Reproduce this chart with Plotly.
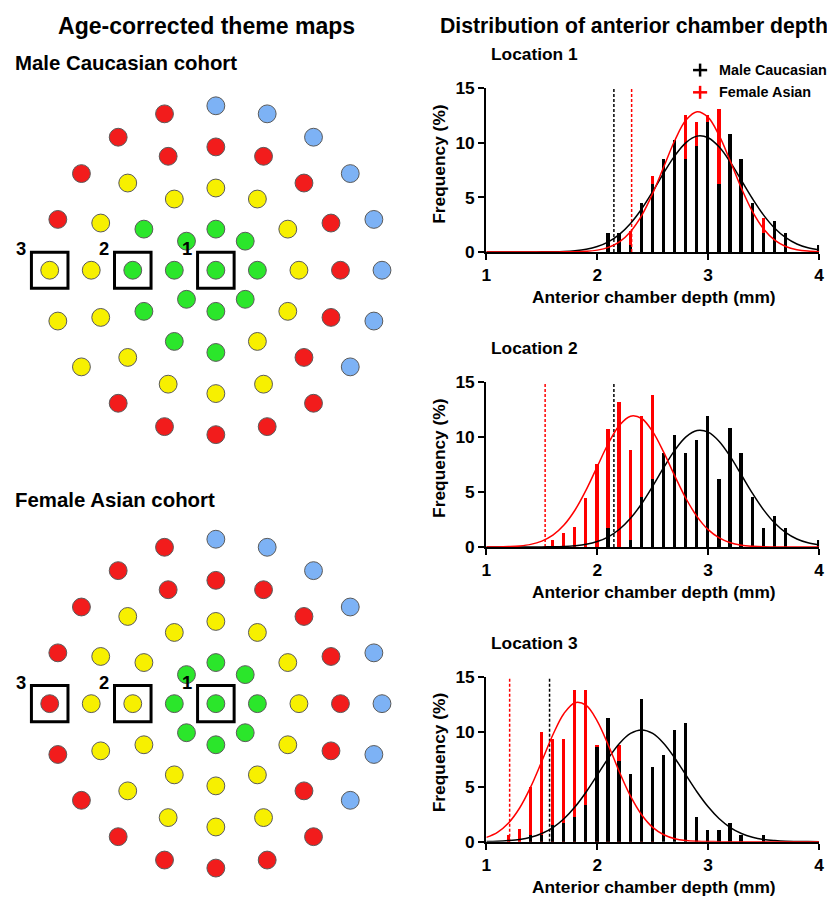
import math
import plotly.graph_objects as go

# ---------------- data ----------------
# histogram bin centres (anterior chamber depth, mm)
bins = [1.2, 1.3, 1.4, 1.5, 1.6, 1.7, 1.8, 1.9, 2.0, 2.1, 2.2, 2.3, 2.4, 2.5, 2.6,
        2.7, 2.8, 2.9, 3.0, 3.1, 3.2, 3.3, 3.4, 3.5, 3.6, 3.7, 3.8, 3.9, 4.0]

male_loc1 = [0, 0, 0, 0, 0, 0, 0, 0, 0, 1.7, 1.7, 0.6, 4.5, 6.2, 8.5,
             10.2, 8.5, 9.7, 11.9, 6.2, 10.8, 8.5, 4.5, 1.7, 2.8, 1.7, 0, 0, 0.6]
female_loc1 = [0, 0, 0, 0, 0, 0, 0, 0, 0, 0, 0.6, 1.9, 3.8, 6.9, 7.5,
               10.0, 12.5, 11.9, 12.5, 13.1, 8.1, 5.6, 3.8, 3.1, 0.6, 0.6, 0, 0, 0]
male_loc2 = [0, 0, 0, 0, 0, 0, 0, 0, 0, 1.7, 0, 0.6, 4.5, 6.2, 8.5,
             10.2, 8.5, 9.7, 11.9, 6.2, 10.8, 8.5, 4.5, 1.7, 2.8, 1.7, 0, 0, 0.6]
female_loc2 = [0, 0, 0, 0, 0.6, 1.2, 1.8, 4.4, 7.5, 10.7, 13.2, 8.8, 11.9, 13.8, 6.9,
               5.0, 3.1, 1.9, 0.6, 0, 0, 0, 0, 0, 0, 0, 0, 0, 0]
male_loc3 = [0, 0, 0.6, 0.6, 1.5, 1.7, 2.3, 3.4, 8.6, 11.3, 7.4, 6.2, 13.0, 6.8, 7.9,
             10.2, 10.8, 2.3, 1.1, 1.1, 1.7, 0.6, 0, 0.6, 0, 0, 0, 0, 0]
female_loc3 = [0.6, 1.2, 5.0, 10.0, 9.4, 9.4, 13.8, 13.8, 8.8, 6.9, 8.8, 3.1, 1.9, 0.6, 0,
               0, 0, 0, 0, 0, 0, 0, 0, 0, 0, 0, 0, 0, 0]

# fitted normal curves
fit_x = [1.0, 1.1, 1.2, 1.3, 1.4, 1.5, 1.6, 1.7, 1.8, 1.9, 2.0, 2.1, 2.2, 2.3, 2.4, 2.5,
         2.6, 2.7, 2.8, 2.9, 3.0, 3.1, 3.2, 3.3, 3.4, 3.5, 3.6, 3.7, 3.8, 3.9, 4.0]
fit_male_loc1 = [0, 0, 0, 0, 0, 0.01, 0.02, 0.05, 0.12, 0.25, 0.50, 0.93, 1.62, 2.62, 3.94,
                 5.54, 7.25, 8.83, 10.03, 10.62, 10.47, 9.62, 8.23, 6.56, 4.88, 3.38, 2.18,
                 1.31, 0.73, 0.38, 0.19]
fit_female_loc1 = [0, 0, 0, 0, 0, 0, 0, 0.01, 0.02, 0.06, 0.17, 0.42, 0.93, 1.86, 3.33,
                   5.37, 7.81, 10.24, 12.09, 12.86, 12.34, 10.66, 8.31, 5.84, 3.69, 2.10,
                   1.08, 0.50, 0.21, 0.08, 0.03]
fit_male_loc2 = fit_male_loc1
fit_female_loc2 = [0, 0.01, 0.04, 0.10, 0.24, 0.54, 1.08, 2.00, 3.37, 5.20, 7.33, 9.43,
                   11.09, 11.92, 11.71, 10.51, 8.62, 6.46, 4.42, 2.77, 1.58, 0.83, 0.39,
                   0.17, 0.07, 0.02, 0.01, 0, 0, 0, 0]
fit_male_loc3 = [0.02, 0.04, 0.10, 0.20, 0.40, 0.74, 1.28, 2.08, 3.17, 4.52, 6.05, 7.59,
                 8.93, 9.84, 10.16, 9.84, 8.93, 7.59, 6.05, 4.52, 3.17, 2.08, 1.28, 0.74,
                 0.40, 0.20, 0.10, 0.04, 0.02, 0.01, 0]
fit_female_loc3 = [0.39, 0.85, 1.70, 3.06, 4.98, 7.31, 9.72, 11.66, 12.64, 12.39, 10.97,
                   8.77, 6.34, 4.14, 2.45, 1.30, 0.63, 0.27, 0.11, 0.04, 0.01, 0, 0, 0, 0,
                   0, 0, 0, 0, 0, 0]

# cut-off values (dashed lines), mm
male_cutoff = [2.15, 2.15, 1.57]
female_cutoff = [2.31, 1.53, 1.21]

location_titles = ["Location 1", "Location 2", "Location 3"]
series_names = ["Male Caucasian", "Female Asian"]
x_ticks = [1, 2, 3, 4]
y_ticks = [0, 5, 10, 15]

# theme maps: rings of test points (count per ring) and category per point
ring_counts = [1, 8, 12, 16, 20]
male_map = ["G", "GGGGGGGG", "YYYYYGGGGGYY", "RRRRRRYYYYYYYYRR", "BBBBBBRRRRYYYRRRRRBB"]
female_map = ["G", "GGGGGGGG", "YYYYYYYYYYYY", "RRRRRRYYYYYYYYRR", "BBBBBBRRRRRRRRRRRRBB"]
# highlighted locations: ring index and angle (deg)
loc_ring = [0, 2, 4]
loc_angle = [0, 180, 180]
loc_labels = ["1", "2", "3"]

# ---------------- style / placement ----------------
# observed mapping of figure pixels to photo pixels: photo = SC * fig + SOFF
SC, SOFF = 0.98, 15.5
FW, FH = 836, 901
FONT = "Liberation Sans, Arial, Helvetica, sans-serif"
RED = "#FF0000"
BLACK = "#000000"
SERIES_COLORS = [BLACK, RED]
CAT_COLORS = {"G": "#2BE62B", "Y": "#F7F000", "R": "#F21C1C", "B": "#7DB2F5"}


def sz(v):
    return v / SC


def px_x(px):
    return ((px - SOFF) / SC) / FW


def px_y(py):
    return 1 - ((py - SOFF) / SC) / FH


fig = go.Figure()

male_bars = [male_loc1, male_loc2, male_loc3]
female_bars = [female_loc1, female_loc2, female_loc3]
male_fits = [fit_male_loc1, fit_male_loc2, fit_male_loc3]
female_fits = [fit_female_loc1, fit_female_loc2, fit_female_loc3]
hist_y_px = [(86, 250), (380.7, 545.7), (675.7, 841)]

annotations = []
shapes = []
layout_axes = {}

for i in range(3):
    suf = "" if i == 0 else str(i + 1)
    xa, ya = "x" + suf, "y" + suf
    fig.add_trace(go.Bar(x=bins, y=female_bars[i], width=0.03, marker=dict(color=RED, line_width=0),
                         xaxis=xa, yaxis=ya, showlegend=False, hoverinfo="skip"))
    fig.add_trace(go.Bar(x=bins, y=male_bars[i], width=0.03, marker=dict(color=BLACK, line_width=0),
                         xaxis=xa, yaxis=ya, showlegend=False, hoverinfo="skip"))
    fig.add_trace(go.Scatter(x=[male_cutoff[i], male_cutoff[i]], y=[0, 15], mode="lines",
                             line=dict(color=BLACK, width=1.5, dash="3px,2px"),
                             xaxis=xa, yaxis=ya, showlegend=False, hoverinfo="skip"))
    fig.add_trace(go.Scatter(x=[female_cutoff[i], female_cutoff[i]], y=[0, 15], mode="lines",
                             line=dict(color=RED, width=1.5, dash="3px,2px"),
                             xaxis=xa, yaxis=ya, showlegend=False, hoverinfo="skip"))
    fig.add_trace(go.Scatter(x=fit_x, y=male_fits[i], mode="lines",
                             line=dict(color=BLACK, width=1.5, shape="spline"),
                             xaxis=xa, yaxis=ya, showlegend=False, hoverinfo="skip"))
    fig.add_trace(go.Scatter(x=fit_x, y=female_fits[i], mode="lines",
                             line=dict(color=RED, width=1.5, shape="spline"),
                             xaxis=xa, yaxis=ya, showlegend=False, hoverinfo="skip"))

    top, bot = hist_y_px[i]
    axis_common = dict(showline=True, linecolor=BLACK, linewidth=2, ticks="outside",
                       ticklen=sz(6), tickwidth=2, tickcolor=BLACK, showgrid=False,
                       zeroline=False, fixedrange=True,
                       tickfont=dict(family=FONT, size=sz(17), color=BLACK, weight="bold"))
    layout_axes["xaxis" + suf] = dict(axis_common, domain=[px_x(485), px_x(815)], range=[1, 4],
                                      tickvals=x_ticks, anchor=ya)
    layout_axes["yaxis" + suf] = dict(axis_common, domain=[px_y(bot), px_y(top)], range=[0, 15],
                                      tickvals=y_ticks, anchor=xa)

    annotations.append(dict(text=location_titles[i], x=px_x(488), y=px_y(top - 34),
                            xanchor="left", yanchor="middle", showarrow=False,
                            font=dict(size=sz(17), weight="bold")))
    annotations.append(dict(text="Frequency (%)", x=px_x(438), y=px_y(top + 75.7),
                            xanchor="center", yanchor="middle", showarrow=False, textangle=-90,
                            font=dict(size=sz(17), weight="bold")))
    annotations.append(dict(text="Anterior chamber depth (mm)", x=px_x(650.8), y=px_y(bot + 45.5),
                            xanchor="center", yanchor="middle", showarrow=False,
                            font=dict(size=sz(17), weight="bold")))

# legend (drawn as plus-signs and labels)
legend_rows_y = [67.7, 90.0]
for k in range(2):
    ly = legend_rows_y[k]
    col = SERIES_COLORS[k]
    shapes.append(dict(type="line", xref="paper", yref="paper", x0=px_x(690), x1=px_x(704),
                       y0=px_y(ly), y1=px_y(ly), line=dict(color=col, width=2.5)))
    shapes.append(dict(type="line", xref="paper", yref="paper", x0=px_x(697), x1=px_x(697),
                       y0=px_y(ly - 6.5), y1=px_y(ly + 6.5), line=dict(color=col, width=2.5)))
    annotations.append(dict(text=series_names[k], x=px_x(714), y=px_y(ly), xanchor="left",
                            yanchor="middle", showarrow=False,
                            font=dict(size=sz(14.1), weight="bold")))

# theme maps
UNIT = 41.2  # photo px per ring
map_centers_y = [268.3, 702.7]
maps = [male_map, female_map]
cx = 216.7
for m in range(2):
    n = str(4 + m)
    xs, ys, cols = [], [], []
    for r, cnt in enumerate(ring_counts):
        for k in range(cnt):
            a = math.radians(k * 360.0 / cnt)
            xs.append(r * math.cos(a))
            ys.append(r * math.sin(a))
            cols.append(CAT_COLORS[maps[m][r][k]])
    fig.add_trace(go.Scatter(x=xs, y=ys, mode="markers", xaxis="x" + n, yaxis="y" + n,
                             marker=dict(size=sz(17.5), color=cols, line=dict(width=1, color="#5a5a5a")),
                             showlegend=False, hoverinfo="skip"))
    cy = map_centers_y[m]
    layout_axes["xaxis" + n] = dict(domain=[0, px_x(417.5)],
                                    range=[(SOFF - cx) / UNIT, (417.5 - cx) / UNIT],
                                    visible=False, fixedrange=True, anchor="y" + n)
    layout_axes["yaxis" + n] = dict(domain=[px_y(cy + 4.5 * UNIT), px_y(cy - 4.5 * UNIT)],
                                    range=[-4.5, 4.5], visible=False, fixedrange=True, anchor="x" + n)
    for j in range(3):
        bx = loc_ring[j] * math.cos(math.radians(loc_angle[j]))
        by = loc_ring[j] * math.sin(math.radians(loc_angle[j]))
        h = 0.44
        shapes.append(dict(type="rect", xref="x" + n, yref="y" + n, x0=bx - h, x1=bx + h,
                           y0=by - h, y1=by + h, line=dict(color=BLACK, width=3)))
        annotations.append(dict(text=loc_labels[j], xref="x" + n, yref="y" + n,
                                x=bx - 0.69, y=by + 0.52, showarrow=False,
                                xanchor="center", yanchor="middle",
                                font=dict(size=sz(18), weight="bold")))

annotations += [
    dict(text="Age-corrected theme maps", x=px_x(207.5), y=px_y(23.5), xanchor="center",
         yanchor="middle", showarrow=False, font=dict(size=sz(22.6), weight="bold")),
    dict(text="Distribution of anterior chamber depth", x=px_x(631), y=px_y(23.5), xanchor="center",
         yanchor="middle", showarrow=False, font=dict(size=sz(20.8), weight="bold")),
    dict(text="Male Caucasian cohort", x=px_x(15.5), y=px_y(61), xanchor="left",
         yanchor="middle", showarrow=False, font=dict(size=sz(20), weight="bold")),
    dict(text="Female Asian cohort", x=px_x(15.5), y=px_y(499), xanchor="left",
         yanchor="middle", showarrow=False, font=dict(size=sz(20), weight="bold")),
]
for a in annotations:
    a.setdefault("xref", "paper")
    a.setdefault("yref", "paper")

fig.update_layout(
    width=FW, height=FH, margin=dict(l=0, r=0, t=0, b=0),
    paper_bgcolor="white", plot_bgcolor="white",
    font=dict(family=FONT, color=BLACK),
    barmode="overlay", bargap=0,
    showlegend=False,
    annotations=annotations, shapes=shapes,
    **layout_axes,
)

fig.write_html("out.html")
